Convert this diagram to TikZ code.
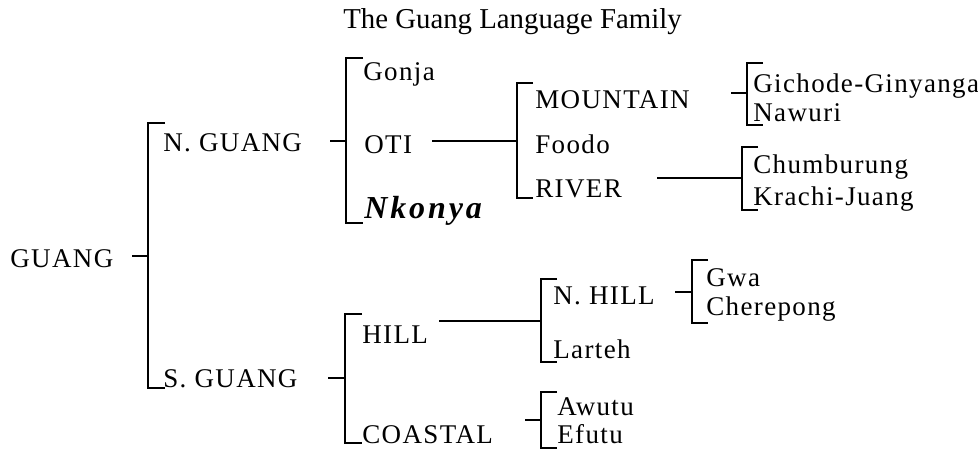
\documentclass[tikz,border=0pt]{standalone}
\usepackage{fontspec}
\setmainfont{Liberation Serif}
\newfontfamily\spfont[LetterSpace=5]{Liberation Serif}
\newfontfamily\nkfont[LetterSpace=9]{Liberation Serif}
\begin{document}
\begin{tikzpicture}[x=0.5pt,y=-0.5pt,
  lab/.style={anchor=base west,inner sep=0pt,font=\spfont\fontsize{13.5}{16}\selectfont},
  ttl/.style={anchor=base,inner sep=0pt,font=\fontsize{14.4}{17}\selectfont},
  ln/.style={line width=1pt,line cap=butt,line join=miter}]
\useasboundingbox (0,0) rectangle (978,450);
% title
\node[ttl] (title) at (512.5,28) {The Guang Language Family};
% nodes
\node[lab] (root) at (10,267) {GUANG};
\node[lab] (ng) at (163,151) {N. GUANG};
\node[lab] (sg) at (163,387) {S. GUANG};
\node[lab] (gonja) at (363,80) {Gonja};
\node[lab] (oti) at (364,153) {OTI};
\node[lab,font=\nkfont\bfseries\itshape\fontsize{16}{19}\selectfont] (nkonya) at (364,218) {Nkonya};
\node[lab] (mount) at (535,108) {MOUNTAIN};
\node[lab] (foodo) at (535,153) {Foodo};
\node[lab] (river) at (535,197) {RIVER};
\node[lab] (gich) at (753,92) {Gichode-Ginyanga};
\node[lab] (nawuri) at (753,121) {Nawuri};
\node[lab] (chum) at (753,173) {Chumburung};
\node[lab] (krachi) at (753,205) {Krachi-Juang};
\node[lab] (hill) at (362,343) {HILL};
\node[lab] (coastal) at (362,443) {COASTAL};
\node[lab] (nhill) at (553,304) {N. HILL};
\node[lab] (larteh) at (553,358) {Larteh};
\node[lab] (awutu) at (557,415) {Awutu};
\node[lab] (efutu) at (557,443) {Efutu};
\node[lab] (gwa) at (706,286) {Gwa};
\node[lab] (chere) at (706,315) {Cherepong};
% connector end points
\coordinate (s0) at (132,256);   \coordinate (j0) at (147.5,256);
\coordinate (s1) at (330,141);   \coordinate (j1) at (346,141);
\coordinate (s2) at (328,378);   \coordinate (j2) at (345,378);
\coordinate (s3) at (432,141);   \coordinate (j3) at (517,141);
\coordinate (s4) at (731,93);    \coordinate (j4) at (747,93);
\coordinate (s5) at (657,178);   \coordinate (j5) at (742,178);
\coordinate (s6) at (439,321);   \coordinate (j6) at (541,321);
\coordinate (s7) at (525,420);   \coordinate (j7) at (541,420);
\coordinate (s8) at (675,292);   \coordinate (j8) at (692,292);
% GUANG
\draw[ln] (s0) -- (j0);
\draw[ln] (165,123) -- (147.5,123) -- (147.5,388) -- (165,388);
% N. GUANG
\draw[ln] (s1) -- (j1);
\draw[ln] (363,58) -- (346,58) -- (346,223) -- (363,223);
% S. GUANG
\draw[ln] (s2) -- (j2);
\draw[ln] (362,314) -- (345,314) -- (345,443) -- (362,443);
% OTI
\draw[ln] (s3) -- (j3);
\draw[ln] (533,83) -- (517,83) -- (517,198) -- (533,198);
% MOUNTAIN
\draw[ln] (s4) -- (j4);
\draw[ln] (763,63) -- (747,63) -- (747,125) -- (763,125);
% RIVER
\draw[ln] (s5) -- (j5);
\draw[ln] (758,147) -- (742,147) -- (742,210) -- (758,210);
% HILL
\draw[ln] (s6) -- (j6);
\draw[ln] (557,279) -- (541,279) -- (541,362) -- (557,362);
% COASTAL
\draw[ln] (s7) -- (j7);
\draw[ln] (557,392) -- (541,392) -- (541,448) -- (557,448);
% N. HILL
\draw[ln] (s8) -- (j8);
\draw[ln] (708,260) -- (692,260) -- (692,323) -- (708,323);
\end{tikzpicture}
\end{document}
